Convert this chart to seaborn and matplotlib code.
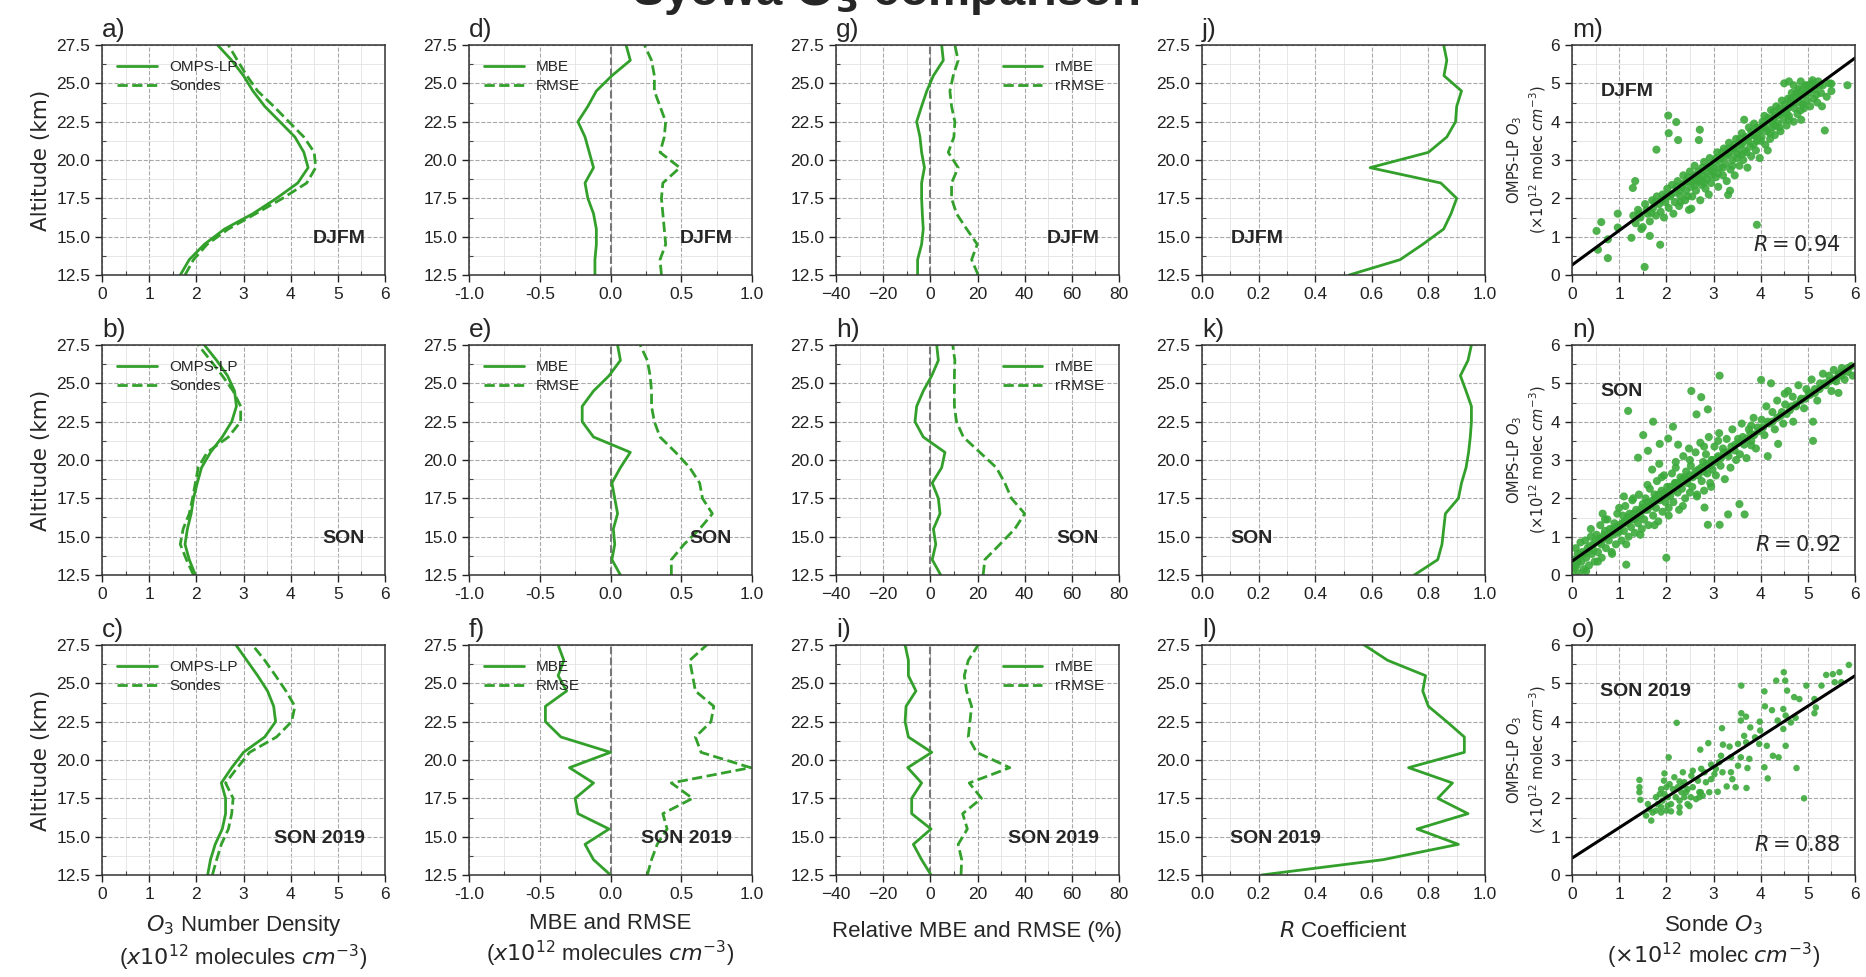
import numpy as np
import pandas as pd
import matplotlib
matplotlib.use("Agg")
import matplotlib.pyplot as plt
import seaborn as sns
from matplotlib.ticker import AutoMinorLocator, MultipleLocator, FormatStrFormatter
from matplotlib import font_manager as fm

# ---------------- data ----------------
altitude = [27.5, 26.5, 25.5, 24.5, 23.5, 22.5, 21.5, 20.5, 19.5, 18.5, 17.5, 16.5, 15.5, 14.5, 13.5, 12.5]
seasons = ["DJFM", "SON", "SON 2019"]

# O3 number density profiles (x1e12 molecules cm-3)
omps_density = {
    "DJFM": [2.45, 2.75, 3.00, 3.20, 3.45, 3.77, 4.09, 4.28, 4.37, 4.15, 3.70, 3.20, 2.60, 2.17, 1.85, 1.66],
    "SON": [2.17, 2.43, 2.66, 2.81, 2.85, 2.75, 2.55, 2.30, 2.11, 2.02, 1.94, 1.89, 1.81, 1.76, 1.85, 1.98],
    "SON 2019": [2.84, 3.07, 3.30, 3.51, 3.64, 3.68, 3.45, 3.00, 2.75, 2.53, 2.62, 2.62, 2.55, 2.40, 2.30, 2.24],
}
sonde_density = {
    "DJFM": [2.68, 2.87, 3.07, 3.30, 3.64, 3.96, 4.28, 4.50, 4.53, 4.34, 3.83, 3.26, 2.68, 2.23, 1.94, 1.76],
    "SON": [2.04, 2.30, 2.55, 2.78, 2.94, 2.94, 2.68, 2.23, 2.04, 1.98, 1.92, 1.85, 1.72, 1.66, 1.79, 1.94],
    "SON 2019": [3.19, 3.45, 3.68, 3.90, 4.09, 4.02, 3.70, 3.13, 2.87, 2.62, 2.78, 2.75, 2.68, 2.53, 2.43, 2.34],
}
mbe = {
    "DJFM": [0.11, 0.14, 0.01, -0.10, -0.16, -0.23, -0.18, -0.15, -0.12, -0.18, -0.16, -0.12, -0.10, -0.10, -0.11, -0.11],
    "SON": [0.05, 0.07, -0.01, -0.12, -0.20, -0.20, -0.12, 0.14, 0.07, 0.01, 0.03, 0.05, 0.02, 0.03, 0.01, 0.07],
    "SON 2019": [-0.37, -0.33, -0.37, -0.31, -0.46, -0.46, -0.35, 0.00, -0.29, -0.12, -0.25, -0.23, -0.01, -0.18, -0.12, 0.00],
}
rmse = {
    "DJFM": [0.24, 0.29, 0.31, 0.31, 0.35, 0.39, 0.38, 0.35, 0.49, 0.37, 0.36, 0.37, 0.38, 0.39, 0.35, 0.36],
    "SON": [0.21, 0.26, 0.28, 0.29, 0.29, 0.31, 0.35, 0.46, 0.56, 0.63, 0.65, 0.72, 0.63, 0.52, 0.43, 0.43],
    "SON 2019": [0.68, 0.56, 0.58, 0.60, 0.73, 0.71, 0.60, 0.64, 0.99, 0.43, 0.58, 0.37, 0.40, 0.33, 0.29, 0.26],
}
rmbe = {
    "DJFM": [4.8, 5.5, 1.3, -1.5, -3.7, -5.8, -4.4, -3.7, -2.5, -3.7, -3.7, -3.4, -3.0, -3.7, -5.4, -5.4],
    "SON": [2.7, 3.4, 0.6, -3.0, -5.8, -6.5, -3.0, 6.2, 4.8, 0.8, 3.4, 4.1, 1.3, 2.3, 0.8, 4.4],
    "SON 2019": [-10.7, -9.3, -9.3, -6.1, -10.3, -10.7, -9.3, 0.6, -9.6, -3.7, -7.9, -7.9, 0.3, -7.2, -3.7, 0.3],
}
rrmse = {
    "DJFM": [10.4, 11.8, 9.7, 8.3, 9.0, 10.4, 10.0, 7.6, 11.8, 9.0, 9.0, 11.1, 15.4, 19.9, 17.5, 20.3],
    "SON": [9.5, 10.4, 10.2, 10.2, 10.2, 11.1, 14.0, 21.0, 28.0, 31.6, 34.4, 40.0, 35.8, 29.5, 23.1, 22.4],
    "SON 2019": [20.3, 16.1, 14.4, 15.4, 17.5, 16.8, 16.1, 19.6, 33.7, 16.5, 21.7, 13.7, 15.7, 11.8, 13.3, 13.0],
}
r_coef = {
    "DJFM": [0.854, 0.865, 0.855, 0.917, 0.90, 0.896, 0.865, 0.80, 0.594, 0.844, 0.90, 0.88, 0.854, 0.78, 0.70, 0.52],
    "SON": [0.952, 0.94, 0.913, 0.933, 0.952, 0.952, 0.948, 0.942, 0.933, 0.917, 0.906, 0.86, 0.854, 0.848, 0.833, 0.75],
    "SON 2019": [0.573, 0.656, 0.79, 0.78, 0.80, 0.865, 0.927, 0.927, 0.73, 0.885, 0.833, 0.94, 0.76, 0.906, 0.64, 0.21],
}

# scatter (sonde O3, OMPS-LP O3), x1e12 molec cm-3
scatter_djfm = [
    (2.04, 4.16), (2.21, 3.99), (2.05, 3.70), (2.71, 3.79), (2.69, 3.52), (2.25, 3.52), (1.79, 3.27),
    (1.34, 2.45), (1.29, 2.27), (0.97, 1.60), (0.62, 1.38), (0.52, 1.15), (0.76, 0.93), (0.55, 0.66),
    (0.76, 0.44), (1.54, 0.21), (1.87, 0.79), (3.92, 1.31), (5.36, 3.77), (5.84, 4.95), (5.50, 4.99),
    (3.31, 2.09), (2.69, 2.54), (2.53, 1.73), (1.65, 1.02), (1.26, 0.97), (0.97, 1.24), (1.47, 1.20),
    (1.30, 1.55), (1.35, 1.35), (1.40, 1.70), (1.45, 1.50), (1.50, 1.25), (1.55, 1.85), (1.60, 1.60),
    (1.65, 1.40), (1.70, 1.95), (1.72, 1.75), (1.78, 1.55), (1.80, 2.05), (1.85, 1.85), (1.88, 1.65),
    (1.92, 2.10), (1.95, 1.50), (1.98, 1.90),
    (2.02, 2.25), (2.05, 1.75), (2.08, 2.05), (2.12, 2.35), (2.15, 1.60), (2.18, 1.90), (2.20, 2.15),
    (2.24, 2.45), (2.27, 1.80), (2.30, 2.05), (2.33, 2.30), (2.36, 2.60), (2.40, 1.95), (2.42, 2.20),
    (2.45, 2.45), (2.48, 1.70), (2.50, 2.70),
    (2.52, 2.30), (2.55, 2.05), (2.58, 2.55), (2.60, 2.85), (2.63, 2.20), (2.66, 2.45), (2.68, 2.70),
    (2.72, 1.95), (2.75, 2.35), (2.78, 2.60), (2.80, 2.95), (2.83, 2.25), (2.86, 2.50), (2.88, 2.80),
    (2.92, 3.05), (2.95, 2.40), (2.98, 2.70), (2.90, 2.10),
    (3.02, 2.95), (3.05, 2.55), (3.08, 3.20), (3.10, 2.30), (3.13, 2.80), (3.16, 3.05), (3.20, 2.60),
    (3.22, 3.30), (3.25, 2.90), (3.28, 2.45), (3.30, 3.15), (3.33, 3.45), (3.36, 2.75), (3.40, 3.00),
    (3.42, 3.30), (3.45, 2.60), (3.48, 3.55), (3.35, 2.20),
    (3.52, 3.15), (3.55, 2.85), (3.58, 3.40), (3.60, 3.70), (3.63, 3.00), (3.66, 3.25), (3.70, 3.55),
    (3.72, 2.80), (3.75, 3.85), (3.78, 3.35), (3.80, 3.10), (3.83, 3.65), (3.86, 3.95), (3.90, 3.25),
    (3.92, 3.50), (3.95, 3.80), (3.98, 3.05), (3.65, 4.05),
    (4.02, 3.60), (4.05, 3.90), (4.08, 4.15), (4.10, 3.40), (4.13, 3.75), (4.16, 4.05), (4.20, 3.55),
    (4.22, 4.30), (4.25, 3.85), (4.28, 4.10), (4.30, 3.65), (4.33, 4.40), (4.36, 3.95), (4.40, 4.20),
    (4.42, 3.75), (4.45, 4.55), (4.48, 4.05), (4.15, 3.25),
    (4.52, 4.30), (4.55, 3.90), (4.58, 4.60), (4.60, 4.15), (4.63, 4.45), (4.66, 4.75), (4.70, 4.00),
    (4.72, 4.35), (4.75, 4.65), (4.78, 4.20), (4.80, 4.85), (4.83, 4.50), (4.86, 4.05), (4.90, 4.70),
    (4.92, 4.35), (4.95, 4.95), (4.98, 4.55), (4.70, 4.95),
    (5.02, 4.75), (5.05, 4.40), (5.08, 5.00), (5.12, 4.60), (5.15, 4.85), (5.20, 4.50), (5.22, 5.05),
    (5.28, 4.75), (5.32, 4.95), (5.40, 4.65), (5.45, 5.00), (5.50, 4.80), (5.30, 4.40),
    (4.50, 5.00), (4.60, 5.05), (4.85, 5.05), (5.10, 5.08),
    (1.42, 1.60), (1.58, 1.70), (1.68, 1.62), (1.75, 1.88), (1.90, 1.95), (2.00, 2.05), (2.10, 2.10),
    (2.22, 2.30), (2.28, 2.20), (2.38, 2.40), (2.46, 2.55), (2.54, 2.45), (2.62, 2.60), (2.70, 2.50),
    (2.76, 2.80), (2.84, 2.70), (2.92, 2.85), (3.00, 2.80), (3.06, 3.05), (3.12, 3.00), (3.18, 3.20),
    (3.26, 3.10), (3.32, 3.30), (3.38, 3.20), (3.44, 3.40), (3.50, 3.30), (3.56, 3.55), (3.62, 3.45),
    (3.68, 3.60), (3.74, 3.50), (3.80, 3.75), (3.86, 3.65), (3.92, 3.85), (3.98, 3.75), (4.04, 4.00),
    (4.10, 3.85), (4.16, 4.10), (4.22, 4.00), (4.28, 4.25), (4.34, 4.15), (4.40, 4.35), (4.46, 4.25),
    (4.52, 4.45), (4.58, 4.35), (4.64, 4.60), (4.70, 4.50), (4.76, 4.75), (4.82, 4.65), (4.88, 4.85),
    (4.94, 4.75), (5.00, 4.95), (5.06, 4.85), (5.14, 4.95), (5.25, 4.95), (3.10, 2.65), (3.40, 2.85),
    (3.70, 3.20), (4.00, 3.50), (4.30, 3.90), (4.60, 4.05), (4.90, 4.45), (2.60, 2.35), (2.30, 1.90),
    (2.80, 2.40), (3.20, 2.80), (3.50, 3.05), (3.85, 3.40), (4.20, 3.70), (4.55, 4.20), (4.85, 4.30),
    (5.18, 4.70), (2.45, 2.05), (2.95, 2.60), (3.60, 3.15), (3.95, 3.55), (4.40, 3.85),
]
scatter_son = [
    (3.13, 5.20), (2.53, 4.80), (2.74, 4.64), (2.88, 4.32), (1.19, 4.28), (1.72, 4.00), (2.14, 3.87),
    (2.64, 4.19), (1.51, 3.65), (2.04, 3.56), (1.86, 3.42), (1.61, 3.24), (1.40, 3.06), (4.01, 5.09),
    (4.22, 5.00), (4.51, 4.73), (5.11, 4.00), (4.69, 4.00), (5.11, 3.50), (4.37, 3.42), (4.15, 3.10),
    (3.80, 3.38), (3.55, 1.85), (3.66, 1.58), (3.31, 1.58), (2.88, 1.31), (3.13, 1.31), (2.81, 1.76),
    (2.00, 0.45), (1.15, 0.27), (5.71, 5.20), (3.80, 3.90),
    (0.02, 0.10), (0.05, 0.40), (0.08, 0.70), (0.10, 0.25), (0.12, 0.55), (0.15, 0.05), (0.18, 0.85),
    (0.20, 0.35), (0.22, 0.60), (0.25, 0.15), (0.28, 0.90), (0.30, 0.45), (0.33, 0.70), (0.36, 0.25),
    (0.40, 1.00), (0.42, 0.55), (0.45, 0.80), (0.48, 0.35),
    (0.52, 1.05), (0.55, 0.60), (0.58, 0.85), (0.60, 1.30), (0.63, 0.45), (0.66, 0.95), (0.70, 1.15),
    (0.72, 0.70), (0.75, 1.45), (0.78, 0.90), (0.80, 1.20), (0.84, 0.60), (0.87, 1.05), (0.90, 1.35),
    (0.93, 0.80), (0.96, 1.60), (0.98, 1.10), (0.65, 1.60),
    (1.02, 1.30), (1.05, 0.90), (1.08, 1.55), (1.10, 1.15), (1.13, 1.80), (1.16, 1.35), (1.20, 1.00),
    (1.22, 1.60), (1.25, 1.25), (1.28, 1.95), (1.30, 1.45), (1.33, 1.10), (1.36, 1.70), (1.40, 1.35),
    (1.42, 2.10), (1.45, 1.55), (1.48, 1.20), (1.50, 1.85), (1.10, 2.05),
    (1.53, 1.45), (1.56, 2.00), (1.60, 1.70), (1.62, 1.30), (1.65, 2.25), (1.68, 1.85), (1.72, 1.55),
    (1.75, 2.10), (1.78, 1.75), (1.80, 2.45), (1.83, 1.40), (1.86, 1.95), (1.90, 2.20), (1.92, 1.65),
    (1.95, 2.60), (1.98, 1.90), (1.70, 2.75), (1.85, 2.90),
    (2.02, 2.30), (2.05, 1.75), (2.08, 2.05), (2.12, 2.65), (2.15, 1.90), (2.18, 2.40), (2.20, 2.95),
    (2.24, 2.15), (2.27, 1.70), (2.30, 2.55), (2.33, 2.25), (2.36, 3.10), (2.40, 2.00), (2.42, 2.70),
    (2.45, 2.40), (2.48, 3.30), (2.50, 2.15), (2.25, 3.40),
    (2.52, 2.85), (2.55, 2.30), (2.58, 2.60), (2.62, 3.20), (2.65, 2.05), (2.68, 2.75), (2.72, 3.45),
    (2.75, 2.45), (2.78, 2.95), (2.80, 2.20), (2.84, 3.15), (2.87, 2.65), (2.90, 3.60), (2.93, 2.40),
    (2.96, 3.00), (2.98, 2.75),
    (3.02, 3.35), (3.05, 2.60), (3.08, 3.05), (3.12, 3.70), (3.15, 2.85), (3.20, 3.30), (3.24, 2.50),
    (3.28, 3.55), (3.32, 3.10), (3.36, 2.80), (3.40, 3.80), (3.45, 3.25), (3.48, 3.00),
    (3.52, 3.55), (3.56, 3.15), (3.60, 3.95), (3.65, 3.40), (3.70, 3.05), (3.75, 3.80), (3.80, 3.50),
    (3.85, 4.10), (3.90, 3.30), (3.95, 3.75),
    (4.02, 4.05), (4.08, 3.65), (4.12, 4.40), (4.18, 3.95), (4.25, 4.25), (4.30, 3.80), (4.35, 4.55),
    (4.42, 4.15), (4.48, 3.95),
    (4.52, 4.45), (4.58, 4.80), (4.62, 4.30), (4.68, 4.65), (4.75, 4.45), (4.80, 4.95), (4.86, 4.60),
    (4.92, 4.35), (4.97, 4.85),
    (5.02, 4.75), (5.08, 5.10), (5.15, 4.85), (5.20, 4.55), (5.26, 5.00), (5.32, 5.25), (5.38, 4.95),
    (5.45, 5.20), (5.50, 4.80), (5.55, 5.35), (5.60, 5.05), (5.66, 5.25), (5.72, 5.40), (5.78, 5.10),
    (5.85, 5.30), (5.92, 5.45), (5.65, 4.75), (5.95, 5.20),
    (0.05, 0.20), (0.12, 0.35), (0.18, 0.50), (0.25, 0.55), (0.32, 0.60), (0.38, 0.75), (0.45, 0.65),
    (0.50, 0.90), (0.58, 0.95), (0.62, 0.80), (0.68, 1.05), (0.75, 1.00), (0.82, 1.10), (0.88, 1.20),
    (0.95, 1.25), (1.00, 1.15), (1.06, 1.35), (1.12, 1.40), (1.18, 1.50), (1.24, 1.45), (1.30, 1.60),
    (1.36, 1.50), (1.42, 1.65), (1.48, 1.75), (1.54, 1.70), (1.60, 1.90), (1.66, 1.80), (1.72, 1.95),
    (1.78, 2.00), (1.84, 2.10), (1.90, 2.00), (1.96, 2.15), (2.02, 2.10), (2.08, 2.30), (2.14, 2.20),
    (2.20, 2.40), (2.26, 2.35), (2.32, 2.45), (2.38, 2.55), (2.44, 2.50), (2.50, 2.60), (2.56, 2.55),
    (2.62, 2.70), (2.68, 2.60), (2.74, 2.80), (2.80, 2.70), (2.86, 2.90), (2.92, 2.85), (2.98, 3.00),
    (3.04, 2.95), (3.10, 3.10), (3.16, 3.05), (3.22, 3.20), (3.30, 3.20), (3.38, 3.35), (3.46, 3.40),
    (3.54, 3.45), (3.62, 3.60), (3.70, 3.55), (3.78, 3.70), (3.86, 3.65), (3.94, 3.85), (4.05, 3.85),
    (4.15, 4.00), (4.25, 4.00), (4.35, 4.10), (4.45, 4.25), (4.55, 4.20), (4.65, 4.40), (4.75, 4.40),
    (4.85, 4.55), (4.95, 4.60), (5.05, 4.70), (5.15, 4.75), (5.25, 4.85), (5.35, 5.00), (5.45, 5.05),
    (5.55, 5.10), (5.65, 5.20), (5.75, 5.30), (5.85, 5.40), (0.30, 0.10), (0.55, 0.35), (0.85, 0.55),
    (1.15, 0.80), (1.45, 1.05), (1.75, 1.30), (2.05, 1.55), (2.35, 1.80), (2.65, 2.10), (2.95, 2.30),
    (1.00, 1.75), (1.30, 2.00), (1.60, 2.35), (1.90, 2.55), (2.20, 2.80), (2.50, 3.00), (2.80, 3.35),
    (3.10, 3.50), (0.40, 1.20), (0.70, 1.45),
]
scatter_son2019 = [
    (5.87, 5.48), (5.67, 5.29), (5.53, 5.24), (5.39, 5.22), (5.57, 5.03), (5.71, 5.03), (5.29, 4.94),
    (4.97, 4.94), (4.49, 5.29), (4.33, 5.07), (4.52, 5.07), (3.59, 4.94), (4.08, 4.79), (4.56, 4.81),
    (4.71, 4.64), (4.82, 4.59), (5.14, 4.59), (4.09, 4.40), (4.24, 4.30), (4.48, 4.33), (5.17, 4.37),
    (5.14, 4.22), (4.53, 4.16), (4.74, 4.10), (4.36, 4.03), (4.64, 3.98), (4.48, 3.81), (3.59, 4.22),
    (3.69, 4.13), (3.58, 4.03), (3.98, 4.00), (3.18, 3.83), (3.78, 3.85), (3.99, 3.77), (3.65, 3.63),
    (3.88, 3.59), (2.22, 3.97), (2.89, 3.44), (2.72, 3.27), (3.20, 3.40), (3.34, 3.35), (3.52, 3.42),
    (3.69, 3.46), (3.97, 3.42), (4.13, 3.37), (4.53, 3.37), (4.26, 3.11), (4.38, 3.07), (4.76, 2.79),
    (4.08, 2.81), (4.15, 2.52), (4.92, 2.00), (2.05, 3.07), (3.16, 3.11), (3.37, 3.07), (3.58, 3.07),
    (3.76, 3.03), (3.52, 2.85), (3.72, 2.79), (3.12, 2.94), (2.95, 2.88), (2.74, 2.77), (2.56, 2.72),
    (2.53, 2.59), (2.35, 2.68), (1.96, 2.65), (2.17, 2.55), (1.95, 2.46), (2.28, 2.44), (2.38, 2.42),
    (2.67, 2.46), (2.84, 2.42), (3.02, 2.63), (3.19, 2.68), (3.37, 2.68), (3.40, 2.50), (3.28, 2.31),
    (3.47, 2.29), (3.70, 2.27), (1.43, 2.48), (1.43, 2.29), (1.43, 2.16), (1.45, 1.96), (1.78, 2.03),
    (1.89, 2.24), (2.00, 2.29), (2.07, 2.37), (2.14, 2.24), (2.24, 2.29), (2.35, 2.33), (2.45, 2.24),
    (2.56, 2.29), (2.73, 2.16), (2.91, 2.16), (3.09, 2.17), (2.70, 2.03), (2.77, 2.07), (1.82, 1.85),
    (1.92, 1.94), (2.03, 2.03), (2.10, 1.85), (2.20, 2.03), (2.28, 1.94), (2.38, 2.03), (2.45, 1.85),
    (2.52, 2.03), (2.63, 1.98), (2.70, 2.16), (1.64, 1.72), (1.71, 1.63), (1.78, 1.68), (1.89, 1.63),
    (2.00, 1.68), (2.10, 1.66), (2.28, 1.63), (2.49, 1.80), (1.57, 1.55), (1.68, 1.42), (1.89, 1.77),
    (2.03, 1.81), (2.28, 1.77), (2.81, 2.68), (2.95, 2.50), (3.05, 2.77), (2.32, 2.16), (2.42, 2.16),
    (1.96, 2.11), (1.86, 2.11), (1.61, 1.85),
]
scatter_points = {"DJFM": scatter_djfm, "SON": scatter_son, "SON 2019": scatter_son2019}
fit_intercept = {"DJFM": 0.26, "SON": 0.36, "SON 2019": 0.44}
fit_slope = {"DJFM": 0.90, "SON": 0.857, "SON 2019": 0.793}
scatter_r = {"DJFM": 0.94, "SON": 0.92, "SON 2019": 0.88}

panel_letters = [["a)", "d)", "g)", "j)", "m)"],
                 ["b)", "e)", "h)", "k)", "n)"],
                 ["c)", "f)", "i)", "l)", "o)"]]

# ---------------- style ----------------
sns.set_theme(style="ticks")
plt.rcParams["font.family"] = ["DejaVu Sans"]
plt.rcParams["mathtext.fontset"] = "dejavusans"

available = {f.name for f in fm.fontManager.ttflist}
NARROW = "Liberation Sans Narrow" if "Liberation Sans Narrow" in available else "Liberation Sans"
ARIAL = "Liberation Sans"

GREEN = "#33a02c"
DOT = "#3caa3c"

fig = plt.figure(figsize=(18.66, 9.77), dpi=100)
W, H = 1866.0, 977.0
col_left = [102, 469, 836, 1202, 1572]
row_top = [45, 345, 645]
ax_w, ax_h = 283, 230


def style_axes(ax, tick_font):
    ax.grid(which="major", linestyle="--", color="#a8a8a8", linewidth=0.8)
    ax.grid(which="minor", linestyle="-", color="#e3e3e3", linewidth=0.6)
    ax.set_axisbelow(True)
    ax.tick_params(which="major", direction="out", length=5, width=1, labelsize=12.5, colors="#222222")
    ax.tick_params(which="minor", direction="in", length=3, width=0.8, colors="#444444")
    for s in ax.spines.values():
        s.set_color("#333333")
        s.set_linewidth(1.1)
    for lab in ax.get_xticklabels() + ax.get_yticklabels():
        lab.set_fontfamily(tick_font)


for r, season in enumerate(seasons):
    bottom = 1 - (row_top[r] + ax_h) / H
    axes = [fig.add_axes([col_left[c] / W, bottom, ax_w / W, ax_h / H]) for c in range(5)]
    ax_a, ax_d, ax_g, ax_j, ax_m = axes

    # ---- number density ----
    sns.lineplot(x=omps_density[season], y=altitude, orient="y", ax=ax_a, color=GREEN, lw=2, label="OMPS-LP")
    sns.lineplot(x=sonde_density[season], y=altitude, orient="y", ax=ax_a, color=GREEN, lw=2,
                 linestyle="--", label="Sondes")
    ax_a.set_xlim(0, 6)
    ax_a.xaxis.set_major_locator(MultipleLocator(1))

    # ---- MBE / RMSE ----
    ax_d.axvline(0, color="#777777", ls="--", lw=1.5, zorder=1)
    sns.lineplot(x=mbe[season], y=altitude, orient="y", ax=ax_d, color=GREEN, lw=2, label="MBE")
    sns.lineplot(x=rmse[season], y=altitude, orient="y", ax=ax_d, color=GREEN, lw=2, linestyle="--", label="RMSE")
    ax_d.set_xlim(-1, 1)
    ax_d.xaxis.set_major_locator(MultipleLocator(0.5))
    ax_d.xaxis.set_major_formatter(FormatStrFormatter("%.1f"))

    # ---- relative MBE / RMSE ----
    ax_g.axvline(0, color="#777777", ls="--", lw=1.5, zorder=1)
    sns.lineplot(x=rmbe[season], y=altitude, orient="y", ax=ax_g, color=GREEN, lw=2, label="rMBE")
    sns.lineplot(x=rrmse[season], y=altitude, orient="y", ax=ax_g, color=GREEN, lw=2, linestyle="--", label="rRMSE")
    ax_g.set_xlim(-40, 80)
    ax_g.xaxis.set_major_locator(MultipleLocator(20))

    # ---- R coefficient ----
    sns.lineplot(x=r_coef[season], y=altitude, orient="y", ax=ax_j, color=GREEN, lw=2)
    ax_j.set_xlim(0, 1)
    ax_j.xaxis.set_major_locator(MultipleLocator(0.2))
    ax_j.xaxis.set_major_formatter(FormatStrFormatter("%.1f"))

    for ax in (ax_a, ax_d, ax_g, ax_j):
        ax.set_ylim(12.5, 27.5)
        ax.yaxis.set_major_locator(MultipleLocator(2.5))
        ax.yaxis.set_major_formatter(FormatStrFormatter("%.1f"))
        ax.yaxis.set_minor_locator(AutoMinorLocator(2))
        ax.xaxis.set_minor_locator(AutoMinorLocator(2))
        ax.set_xlabel("")
        ax.set_ylabel("")

    # ---- scatter ----
    pts = scatter_points[season]
    sdf = pd.DataFrame(pts, columns=["sonde", "omps"])
    size = 22 if season == "SON 2019" else 34
    sns.scatterplot(data=sdf, x="sonde", y="omps", ax=ax_m, color=DOT, s=size, edgecolor="none", alpha=0.9)
    ax_m.axline((0, fit_intercept[season]), slope=fit_slope[season], color="black", lw=2.2)
    ax_m.set_xlim(0, 6)
    ax_m.set_ylim(0, 6)
    ax_m.xaxis.set_major_locator(MultipleLocator(1))
    ax_m.yaxis.set_major_locator(MultipleLocator(1))
    ax_m.xaxis.set_minor_locator(AutoMinorLocator(2))
    ax_m.yaxis.set_minor_locator(AutoMinorLocator(2))
    ax_m.set_xlabel("")
    ax_m.set_ylabel("OMPS-LP $O_3$\n($\\times10^{12}$ molec $cm^{-3}$)", fontsize=10.5, labelpad=2)
    ax_m.text(0.95, 0.13, "$R = %.2f$" % scatter_r[season], transform=ax_m.transAxes, ha="right",
              va="center", fontsize=15, family=ARIAL)

    fonts = [NARROW, NARROW, ARIAL, NARROW, ARIAL]
    for c, ax in enumerate(axes):
        style_axes(ax, fonts[c])
        ax.text(0.0, 1.015, panel_letters[r][c], transform=ax.transAxes, ha="left", va="bottom",
                fontsize=19, family=NARROW)

    # season labels
    for ax, f in ((ax_a, NARROW), (ax_d, NARROW), (ax_g, ARIAL)):
        ax.text(0.93, 0.16, season, transform=ax.transAxes, ha="right", va="center",
                fontsize=14, fontweight="bold", family=f)
    ax_j.text(0.1, 0.16, season, transform=ax_j.transAxes, ha="left", va="center",
              fontsize=14, fontweight="bold", family=NARROW)
    ax_m.text(0.1, 0.8, season, transform=ax_m.transAxes, ha="left", va="center",
              fontsize=14, fontweight="bold", family=ARIAL)

    # legends
    ax_a.legend(loc="upper left", frameon=False, handlelength=2.6,
                prop={"family": NARROW, "size": 11}, borderaxespad=0.6, labelspacing=0.3)
    ax_d.legend(loc="upper left", frameon=False, handlelength=2.6,
                prop={"family": NARROW, "size": 11}, borderaxespad=0.6, labelspacing=0.3)
    ax_g.legend(loc="upper right", frameon=False, handlelength=2.6,
                prop={"family": ARIAL, "size": 11}, borderaxespad=0.6, labelspacing=0.3)

    ax_a.set_ylabel("Altitude (km)", fontsize=15.5, labelpad=4)

    if r == 2:
        ax_a.set_xlabel("$O_3$ Number Density\n($x10^{12}$ molecules $cm^{-3}$)", fontsize=16, labelpad=8,
                        family=NARROW)
        ax_d.set_xlabel("MBE and RMSE\n($x10^{12}$ molecules $cm^{-3}$)", fontsize=16, labelpad=8,
                        family=NARROW)
        ax_g.set_xlabel("Relative MBE and RMSE (%)", fontsize=16, labelpad=14, family=NARROW)
        ax_j.set_xlabel("$R$ Coefficient", fontsize=16, labelpad=14, family=NARROW)
        ax_m.set_xlabel("Sonde $O_3$\n($\\times10^{12}$ molec $cm^{-3}$)", fontsize=16, labelpad=8,
                        family=NARROW)

fig.text(0.475, 0.995, "Syowa $\\mathbf{O_3}$ comparison", ha="center", va="baseline",
         fontsize=34, fontweight="bold", family=ARIAL)

fig.savefig("out.png", dpi=100)
